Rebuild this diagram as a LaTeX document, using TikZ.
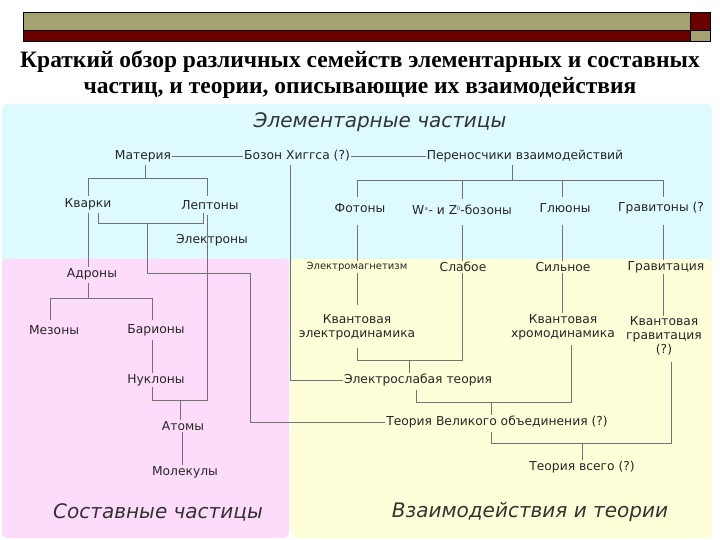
\documentclass[tikz,border=0pt]{standalone}
\usepackage{fontspec}
\setmainfont{DejaVu Sans}
\newfontfamily\titlefont{Liberation Serif}
\definecolor{olv}{HTML}{A3A270}
\definecolor{drd}{HTML}{6B0000}
\definecolor{cy}{HTML}{DDFBFF}
\definecolor{pk}{HTML}{FDDCFB}
\definecolor{yl}{HTML}{FEFED8}
\begin{document}
\begin{tikzpicture}[x=1pt,y=-1pt,
  lab/.style={inner sep=1pt,font=\fontsize{12.3}{14}\selectfont,text=black!85,align=center},
  sm/.style={lab,font=\fontsize{10}{11}\selectfont},
  ln/.style={draw=black!55,line width=0.8pt},
  big/.style={font=\fontsize{20}{22}\selectfont\itshape,text=black!80}]
\useasboundingbox (0,0) rectangle (720,540);
\fill[white] (0,0) rectangle (720,540);
% header
\fill[olv] (23,12) rectangle (690,30);
\fill[drd] (23,30) rectangle (690,41);
\fill[drd] (690,12) rectangle (710,30);
\fill[olv] (690,30) rectangle (710,41);
\draw[black,line width=0.6pt] (23,12) rectangle (710,41) (690,12)--(690,41) (23,30)--(710,30);
\node[font=\titlefont\bfseries\fontsize{23.5}{26}\selectfont] (t1) at (360,62) {Краткий обзор различных семейств элементарных и составных};
\node[font=\titlefont\bfseries\fontsize{23.5}{26}\selectfont] (t2) at (360,88) {частиц, и теории, описывающие их взаимодействия};
% regions
\fill[cy,rounded corners=6pt] (2,104) rectangle (712,266);
\fill[pk,rounded corners=6pt] (2,258) rectangle (289,538);
\fill[yl,rounded corners=6pt] (291,258) rectangle (712,538);
\fill[cy] (2,250) rectangle (712,259);
\node[big] (e) at (380,122) {Элементарные частицы};
\node[big] (s) at (158,512) {Составные частицы};
\node[big] (v) at (530,512) {Взаимодействия и теории};
% nodes
\node[lab] (mat) at (143,156) {Материя};
\node[lab] (hig) at (297,156) {Бозон Хиггса (?)};
\node[lab] (per) at (525,156) {Переносчики взаимодействий};
\node[lab] (kv) at (88,204) {Кварки};
\node[lab] (lep) at (210,205) {Лептоны};
\node[lab] (el) at (212,240) {Электроны};
\node[lab] (adr) at (92,274) {Адроны};
\node[lab] (mez) at (54,330) {Мезоны};
\node[lab] (bar) at (156,330) {Барионы};
\node[lab] (nuk) at (156,380) {Нуклоны};
\node[lab] (at) at (183,426) {Атомы};
\node[lab] (mol) at (185,472) {Молекулы};
\node[lab] (fot) at (360,208) {Фотоны};
\node[lab] (wz) at (462,210) {W\raisebox{0.6ex}{\tiny ±}- и Z\raisebox{0.6ex}{\tiny 0}-бозоны};
\node[lab] (gl) at (565,208) {Глюоны};
\node[lab,anchor=west] (gr) at (617,208) {Гравитоны (?};
\node[sm] (em) at (357,267) {Электромагнетизм};
\node[lab] (sl) at (463,267) {Слабое};
\node[lab] (si) at (563,267) {Сильное};
\node[lab] (grv) at (666,267) {Гравитация};
\node[lab] (qed) at (357,327) {Квантовая\\электродинамика};
\node[lab] (qcd) at (563,327) {Квантовая\\хромодинамика};
\node[lab] (qg) at (664,336) {Квантовая\\гравитация\\(?)};
\node[lab] (ew) at (418,380) {Электрослабая теория};
\node[lab] (gut) at (497,422) {Теория Великого объединения (?)};
\node[lab] (toe) at (582,467) {Теория всего (?)};
% connectors
\draw[ln] (mat) -- (hig);
\draw[ln] (hig) -- (per);
\draw[ln] (145,165) -- (145,178) (88,196) -- (88,178) -- (207,178) -- (207,196);
\draw[ln] (88,213) -- (adr.north -| 88,0);
\draw[ln] (98,213) -- (98,223) -- (203,223) -- (203,213);
\draw[ln] (147,223) -- (147,273) -- (250,273) -- (250,422) -- (gut.west);
\draw[ln] (207,215) -- (207,400) -- (152,400) -- (nuk.south -| 152,0);
\draw[ln] (88,283) -- (88,298) (50,320) -- (50,298) -- (152,298) -- (152,320);
\draw[ln] (152,340) -- (nuk.north -| 152,0);
\draw[ln] (180,400) -- (at.north -| 180,0);
\draw[ln] (at.south -| 182,0) -- (mol.north -| 182,0);
\draw[ln] (290,165) -- (290,380) -- (ew.west);
\draw[ln] (512,165) -- (512,180) (357,197) -- (357,180) -- (663,180) -- (663,197) (462,180) -- (462,199) (562,180) -- (562,197);
\draw[ln] (357,225) -- (em.north -| 357,0) (462,225) -- (sl.north -| 462,0) (562,225) -- (si.north -| 562,0) (663,225) -- (grv.north -| 663,0);
\draw[ln] (em.south -| 357,0) -- (357,305) (si.south -| 562,0) -- (qcd.north -| 562,0) (grv.south -| 663,0) -- (qg.north -| 663,0);
\draw[ln] (357,348) -- (357,360) -- (462,360) -- (sl.south -| 462,0);
\draw[ln] (409,360) -- (ew.north -| 409,0);
\draw[ln] (416,390) -- (416,402) -- (571,402) -- (571,345);
\draw[ln] (491,402) -- (gut.north -| 491,0);
\draw[ln] (491,432) -- (491,443) -- (671,443) -- (671,362);
\draw[ln] (582,443) -- (toe.north -| 582,0);
\end{tikzpicture}
\end{document}
